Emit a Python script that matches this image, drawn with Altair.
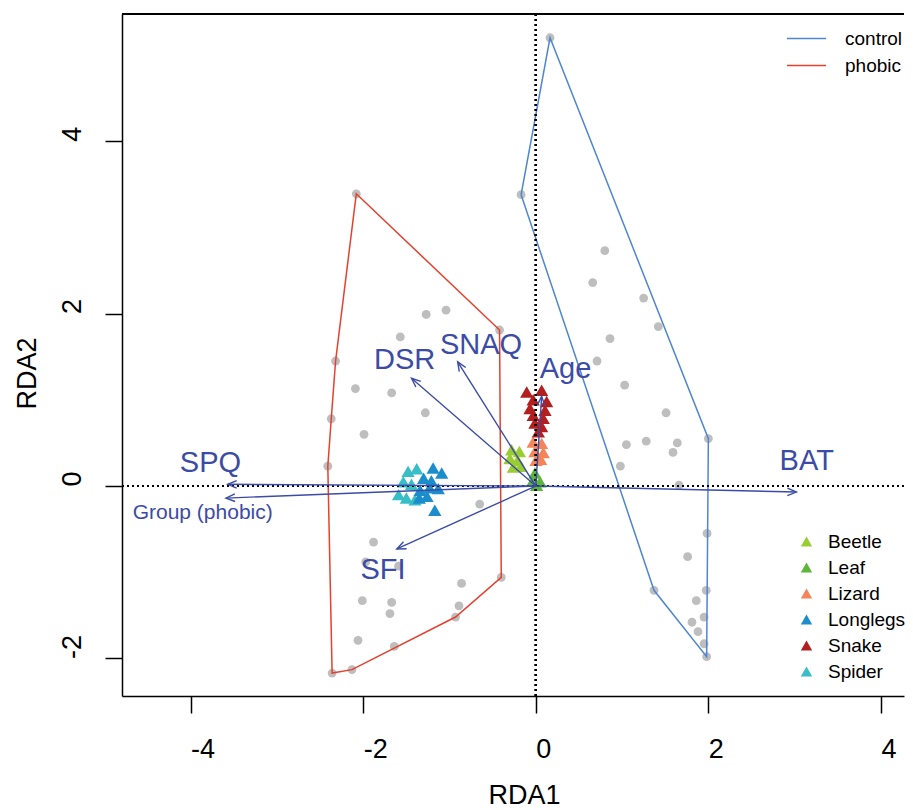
import math
import altair as alt
import pandas as pd

# ---------------- data ----------------
# site scores (grey dots), by group
phobic_x = [-2.08, -1.27, -1.04, -0.42, -1.57, -2.32, -2.09, -1.67, -1.28, -2.37, -1.99, -2.41,
            -0.65, -1.88, -1.97, -1.59, -0.40, -0.86, -2.01, -1.67, -0.89, -1.69, -0.93, -2.06,
            -1.64, -2.13, -2.36]
phobic_y = [3.39, 1.99, 2.04, 1.81, 1.73, 1.45, 1.13, 1.08, 0.85, 0.78, 0.60, 0.23,
            -0.21, -0.65, -0.88, -0.93, -1.06, -1.13, -1.33, -1.35, -1.39, -1.48, -1.52, -1.79,
            -1.86, -2.13, -2.17]
control_x = [0.165, -0.17, 0.80, 0.66, 1.25, 1.42, 0.86, 0.71, 1.03, 1.51, 2.00, 1.05, 1.28,
             1.64, 1.59, 0.98, 1.66, 1.985, 1.76, 1.37, 1.975, 1.86, 1.95, 1.81, 1.88, 1.95, 1.98]
control_y = [5.20, 3.38, 2.73, 2.36, 2.18, 1.85, 1.71, 1.45, 1.17, 0.85, 0.55, 0.48, 0.52,
             0.50, 0.39, 0.23, 0.01, -0.55, -0.82, -1.21, -1.21, -1.33, -1.52, -1.58, -1.69, -1.83, -1.98]

# stimulus scores (triangles)
stim_names = ["Beetle", "Leaf", "Lizard", "Longlegs", "Snake", "Spider"]
stim_colors = ["#9ACD32", "#5DB53A", "#F4845A", "#1C8DCB", "#B31E1E", "#38BEC6"]
spider_x = [-1.48, -1.38, -1.535, -1.44, -1.59, -1.50, -1.40]
spider_y = [0.17, 0.20, 0.05, 0.02, -0.10, -0.14, -0.16]
longlegs_x = [-1.19, -1.09, -1.30, -1.21, -1.34, -1.23, -1.13, -1.26, -1.35, -1.17]
longlegs_y = [0.21, 0.15, 0.09, 0.06, -0.05, -0.02, -0.03, -0.12, -0.14, -0.28]
beetle_x = [-0.28, -0.19, -0.30, -0.21, -0.26, -0.175]
beetle_y = [0.42, 0.40, 0.32, 0.30, 0.22, 0.23]
leaf_x = [-0.01, -0.03, 0.05, 0.01]
leaf_y = [0.15, 0.07, 0.05, 0.01]
lizard_x = [-0.03, 0.068, -0.01, 0.087, 0.002, 0.057]
lizard_y = [0.51, 0.495, 0.40, 0.39, 0.30, 0.31]
snake_x = [-0.105, 0.068, -0.03, 0.126, -0.067, 0.107, -0.03, 0.087, -0.01, 0.068, 0.03]
snake_y = [1.09, 1.11, 1.00, 0.98, 0.90, 0.88, 0.82, 0.785, 0.73, 0.69, 0.63]

# biplot arrows
arrow_names = ["SPQ", "Group (phobic)", "DSR", "SNAQ", "SFI", "Age", "BAT"]
arrow_x = [-3.57, -3.59, -1.44, -0.905, -1.61, 0.068, 3.02]
arrow_y = [0.02, -0.14, 1.25, 1.44, -0.73, 1.04, -0.07]
label_x = [-3.77, -3.86, -1.52, -0.635, -1.77, 0.344, 3.14]
label_y = [0.27, -0.31, 1.46, 1.636, -0.98, 1.36, 0.29]

groups = ["control", "phobic"]
group_colors = ["#4F86D1", "#E5412F"]

# ---------------- layout ----------------
W, H = 782, 682
XD = [-4.795, 4.267]
YD = [-2.436, 5.476]
FONT = "Liberation Sans"
ARROW = "#3B4BA6"

# ---------------- tables ----------------
sites = pd.DataFrame({
    "x": phobic_x + control_x,
    "y": phobic_y + control_y,
    "group": ["phobic"] * len(phobic_x) + ["control"] * len(control_x),
})


def convex_hull(pts):
    pts = sorted(set(pts))
    def cross(o, a, b):
        return (a[0] - o[0]) * (b[1] - o[1]) - (a[1] - o[1]) * (b[0] - o[0])
    lower, upper = [], []
    for p in pts:
        while len(lower) >= 2 and cross(lower[-2], lower[-1], p) <= 0:
            lower.pop()
        lower.append(p)
    for p in reversed(pts):
        while len(upper) >= 2 and cross(upper[-2], upper[-1], p) <= 0:
            upper.pop()
        upper.append(p)
    return lower[:-1] + upper[:-1]


hull_rows = []
for g, xs, ys in [("control", control_x, control_y), ("phobic", phobic_x, phobic_y)]:
    h = convex_hull(list(zip(xs, ys)))
    h = h + [h[0]]
    for i, (hx, hy) in enumerate(h):
        hull_rows.append({"x": hx, "y": hy, "group": g, "ord": i})
hulls = pd.DataFrame(hull_rows)

stim_order = [("Spider", spider_x, spider_y), ("Longlegs", longlegs_x, longlegs_y),
              ("Beetle", beetle_x, beetle_y), ("Lizard", lizard_x, lizard_y),
              ("Snake", snake_x, snake_y), ("Leaf", leaf_x, leaf_y)]
stim_rows = []
for name, xs, ys in stim_order:
    for a, b in zip(xs, ys):
        stim_rows.append({"x": a, "y": b, "stim": name})
stims = pd.DataFrame(stim_rows)

pxu = W / (XD[1] - XD[0])
pyu = H / (YD[1] - YD[0])
arrows = pd.DataFrame({"name": arrow_names, "x": arrow_x, "y": arrow_y,
                       "lx": label_x, "ly": label_y})
arrows["ang"] = [math.degrees(math.atan2(-b * pyu, a * pxu)) % 360 for a, b in zip(arrow_x, arrow_y)]

xs_ = alt.Scale(domain=XD, nice=False, zero=False)
ys_ = alt.Scale(domain=YD, nice=False, zero=False)
xaxis = alt.Axis(values=[-4, -2, 0, 2, 4], title="RDA1", grid=False, labelAlign="left",
                 labelExpr="datum.value + ''",
                 labelBaseline="top", labelPadding=23, tickSize=17, titleX=402, titleY=99,
                 titleAlign="center", titleBaseline="middle")
yaxis = alt.Axis(values=[-2, 0, 2, 4], title="RDA2", grid=False, labelAngle=270, labelAlign="left",
                 labelExpr="datum.value + ''",
                 labelBaseline="alphabetic", labelPadding=25, tickSize=17, titleAngle=270,
                 titleX=-95, titleY=359, titleAlign="center", titleBaseline="middle")


def X(f):
    return alt.X(f, type="quantitative", scale=xs_, axis=xaxis)


def Y(f):
    return alt.Y(f, type="quantitative", scale=ys_, axis=yaxis)


pts = alt.Chart(sites).mark_circle(color="#BEBEBE", size=78, opacity=1).encode(x=X("x"), y=Y("y"))

hull_lines = alt.Chart(hulls).mark_line(strokeWidth=1.5).encode(
    x=X("x"), y=Y("y"), detail="group:N", order="ord:Q",
    stroke=alt.Stroke("group:N", scale=alt.Scale(domain=groups, range=group_colors),
                      legend=alt.Legend(title=None, orient="none", legendX=674, legendY=14,
                                        symbolType="M-2,0H2", symbolSize=380, symbolStrokeWidth=1.5,
                                        labelFontSize=19, labelOffset=28, rowPadding=6, padding=0,
                                        labelFont=FONT, labelColor="black")))

tri = alt.Chart(stims).mark_point(shape="triangle-up", filled=True, size=175, opacity=1).encode(
    x=X("x"), y=Y("y"),
    color=alt.Color("stim:N", scale=alt.Scale(domain=stim_names, range=stim_colors),
                    legend=alt.Legend(title=None, orient="none", legendX=675, legendY=518,
                                      symbolType="triangle-up", symbolSize=130, symbolOpacity=1,
                                      labelFontSize=19, labelOffset=12, rowPadding=6, padding=0,
                                      labelFont=FONT, labelColor="black")))

vline = alt.Chart(sites).mark_rule(color="black", strokeDash=[2, 3], strokeWidth=1.6).encode(x=alt.datum(0))
hline = alt.Chart(sites).mark_rule(color="black", strokeDash=[2, 3], strokeWidth=1.6).encode(y=alt.datum(0))

shafts = alt.Chart(arrows).mark_rule(color=ARROW, strokeWidth=1.4).transform_calculate(
    x0="0", y0="0").encode(x=X("x0"), y=Y("y0"), x2="x:Q", y2="y:Q")

heads = alt.Chart(arrows).mark_point(shape="M-1,-0.42L0,0L-1,0.42", filled=False, size=324,
                                     color=ARROW, strokeWidth=1.4, opacity=1).encode(
    x=X("x"), y=Y("y"), angle=alt.Angle("ang:Q", scale=None))

labels_big = alt.Chart(arrows).transform_filter(alt.datum.name != "Group (phobic)").mark_text(
    font=FONT, fontSize=29, color=ARROW, align="center", baseline="middle").encode(
    x=X("lx"), y=Y("ly"), text="name:N")
labels_small = alt.Chart(arrows).transform_filter(alt.datum.name == "Group (phobic)").mark_text(
    font=FONT, fontSize=21, color=ARROW, align="center", baseline="middle").encode(
    x=X("lx"), y=Y("ly"), text="name:N")

top_border = alt.Chart(sites).mark_rule(color="black", strokeWidth=1.5).encode(
    y=alt.value(0), x=alt.value(0), x2=alt.value(W))

chart = alt.layer(pts, hull_lines, tri, vline, hline, shafts, heads, labels_big, labels_small,
                  top_border).properties(
    width=W, height=H, autosize=alt.AutoSizeParams(type="none"),
    padding={"left": 114, "top": 6, "right": 1, "bottom": 114},
).configure_view(stroke=None).configure_axis(
    labelFont=FONT, titleFont=FONT, labelFontSize=27, titleFontSize=27, titleFontWeight="normal",
    labelColor="black", titleColor="black", domainColor="black", tickColor="black",
    domainWidth=1.5, tickWidth=1.5,
).configure_legend(labelFont=FONT)

chart.save("out.html", embed_options={"renderer": "svg", "actions": False})
